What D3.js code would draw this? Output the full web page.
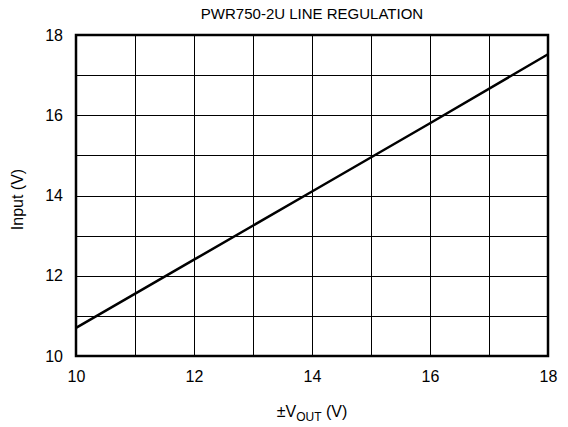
<!DOCTYPE html>
<html>
<head>
<meta charset="utf-8">
<script src="https://cdn.jsdelivr.net/npm/d3@7"></script>
<style>
  body { margin: 0; background: #fff; }
  text { font-family: "Liberation Sans", Arial, sans-serif; fill: #000; }
</style>
</head>
<body>
<div id="chart"></div>
<script>
const vout = [10, 12, 14, 16, 18];
const input = [10.7, 12.4, 14.1, 15.8, 17.52];
const xTicks = [10, 12, 14, 16, 18];
const yTicks = [10, 12, 14, 16, 18];
const xGrid = d3.range(10, 19, 1);
const yGrid = d3.range(10, 19, 1);

const width = 568, height = 427;
const margin = { top: 35, right: 20, bottom: 71, left: 76 };
const w = width - margin.left - margin.right;
const h = height - margin.top - margin.bottom;

const svg = d3.select("#chart").append("svg")
    .attr("width", width)
    .attr("height", height);

const g = svg.append("g")
    .attr("transform", `translate(${margin.left},${margin.top})`);

const x = d3.scaleLinear().domain([10, 18]).range([0, w]);
const y = d3.scaleLinear().domain([10, 18]).range([h, 0]);

// grid
g.selectAll(".vgrid").data(xGrid).enter().append("line")
    .attr("x1", d => Math.round(x(d)) + 0.5).attr("x2", d => Math.round(x(d)) + 0.5)
    .attr("y1", 0).attr("y2", h)
    .attr("stroke", "#000").attr("stroke-width", 1);

g.selectAll(".hgrid").data(yGrid).enter().append("line")
    .attr("y1", d => Math.round(y(d)) + 0.5).attr("y2", d => Math.round(y(d)) + 0.5)
    .attr("x1", 0).attr("x2", w)
    .attr("stroke", "#000").attr("stroke-width", 1);

// frame
g.append("rect")
    .attr("x", 0).attr("y", 0).attr("width", w).attr("height", h)
    .attr("fill", "none").attr("stroke", "#000").attr("stroke-width", 2.5);

// data line
g.append("path")
    .datum(vout.map((v, i) => [v, input[i]]))
    .attr("fill", "none")
    .attr("stroke", "#000")
    .attr("stroke-width", 2.5)
    .attr("d", d3.line().x(d => x(d[0])).y(d => y(d[1])));

// axes (labels only)
const xAxis = g.append("g")
    .attr("transform", `translate(0,${h})`)
    .call(d3.axisBottom(x).tickValues(xTicks).tickSize(0).tickPadding(15));
const yAxis = g.append("g")
    .call(d3.axisLeft(y).tickValues(yTicks).tickSize(0).tickPadding(13));
[xAxis, yAxis].forEach(a => {
    a.select(".domain").remove();
    a.selectAll("text").style("font-size", "16px").style("font-family", "'Liberation Sans', Arial, sans-serif");
});

// title
svg.append("text")
    .attr("x", margin.left + w / 2).attr("y", 19)
    .attr("text-anchor", "middle")
    .style("font-size", "15px")
    .text("PWR750-2U LINE REGULATION");

// x label
const xl = svg.append("text")
    .attr("x", margin.left + w / 2).attr("y", 417)
    .attr("text-anchor", "middle")
    .style("font-size", "16px");
xl.append("tspan").text("±V");
xl.append("tspan").attr("dy", 4).style("font-size", "12px").text("OUT");
xl.append("tspan").attr("dy", -4).text(" (V)");

// y label
svg.append("text")
    .attr("transform", `translate(23,${margin.top + h / 2 + 4}) rotate(-90)`)
    .attr("text-anchor", "middle")
    .style("font-size", "16px")
    .text("Input (V)");
</script>
</body>
</html>
